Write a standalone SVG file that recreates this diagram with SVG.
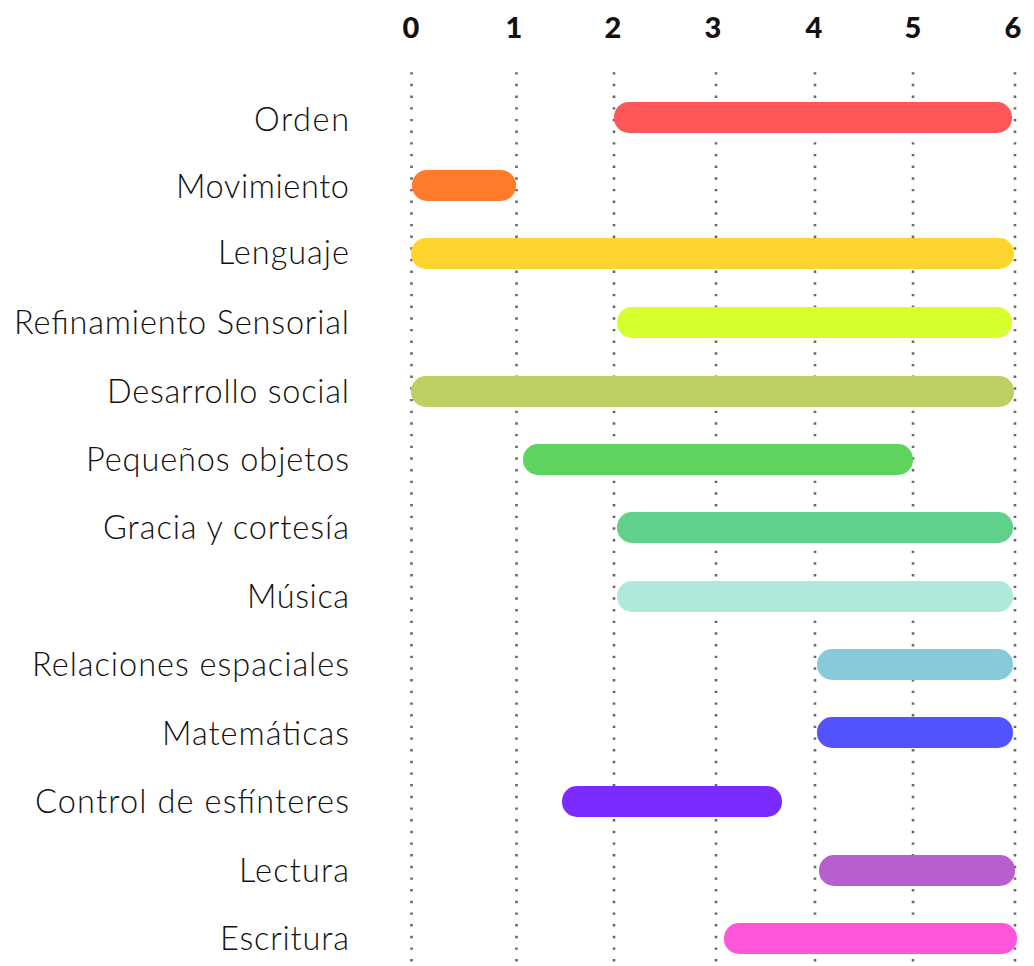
<svg xmlns="http://www.w3.org/2000/svg" width="1034" height="966" viewBox="0 0 1034 966">
<style>
.lbl{font-family:"Lato","Liberation Sans",sans-serif;font-weight:300;font-size:32.5px;fill:#111;text-anchor:end}
.ax{font-family:"Lato","Liberation Sans",sans-serif;font-weight:900;font-size:29px;fill:#111;text-anchor:middle}
.grid line{stroke:#666;stroke-width:2.6;stroke-dasharray:2.4 9.27}
</style>
<rect width="1034" height="966" fill="#fff"/>
<g id="axis">
<text class="ax" x="411" y="38">0</text>
<text class="ax" x="514" y="38">1</text>
<text class="ax" x="613" y="38">2</text>
<text class="ax" x="713" y="38">3</text>
<text class="ax" x="814" y="38">4</text>
<text class="ax" x="913" y="38">5</text>
<text class="ax" x="1013" y="38">6</text>
</g>
<g id="grid" class="grid">
<line x1="411.5" y1="72.2" x2="411.5" y2="966"/>
<line x1="516.5" y1="72.2" x2="516.5" y2="966"/>
<line x1="614" y1="72.2" x2="614" y2="966"/>
<line x1="716" y1="72.2" x2="716" y2="966"/>
<line x1="815" y1="72.2" x2="815" y2="966"/>
<line x1="913" y1="72.2" x2="913" y2="966"/>
<line x1="1015" y1="72.2" x2="1015" y2="966"/>
</g>
<g id="orden"><rect x="614" y="102" width="398" height="31" rx="15" fill="#FF5757"/><text class="lbl" x="349" y="131" textLength="95" lengthAdjust="spacing">Orden</text></g>
<g id="movimiento"><rect x="412" y="170" width="104" height="31" rx="15" fill="#FF7A2B"/><text class="lbl" x="349" y="198" textLength="173" lengthAdjust="spacing">Movimiento</text></g>
<g id="lenguaje"><rect x="411" y="238" width="603" height="31" rx="15" fill="#FDD52E"/><text class="lbl" x="349" y="264" textLength="131" lengthAdjust="spacing">Lenguaje</text></g>
<g id="refinamiento"><rect x="617" y="307" width="395" height="31" rx="15" fill="#D6FF2E"/><text class="lbl" x="349" y="334" textLength="335" lengthAdjust="spacing">Refinamiento Sensorial</text></g>
<g id="desarrollo"><rect x="411" y="376" width="603" height="31" rx="15" fill="#BDD163"/><text class="lbl" x="349" y="403" textLength="242" lengthAdjust="spacing">Desarrollo social</text></g>
<g id="pequenos"><rect x="523" y="444" width="390" height="31" rx="15" fill="#5ED35E"/><text class="lbl" x="349" y="471" textLength="263" lengthAdjust="spacing">Pequeños objetos</text></g>
<g id="gracia"><rect x="617" y="512" width="396" height="31" rx="15" fill="#5FD18D"/><text class="lbl" x="349" y="539" textLength="246" lengthAdjust="spacing">Gracia y cortesía</text></g>
<g id="musica"><rect x="617" y="581" width="396" height="31" rx="15" fill="#B0E8DC"/><text class="lbl" x="349" y="608" textLength="102" lengthAdjust="spacing">Música</text></g>
<g id="relaciones"><rect x="817" y="649" width="196" height="31" rx="15" fill="#87CBDB"/><text class="lbl" x="349" y="676" textLength="317" lengthAdjust="spacing">Relaciones espaciales</text></g>
<g id="matematicas"><rect x="817" y="717" width="196" height="31" rx="15" fill="#5252FF"/><text class="lbl" x="349" y="745" textLength="187" lengthAdjust="spacing">Matemáticas</text></g>
<g id="control"><rect x="562" y="786" width="220" height="31" rx="15" fill="#7B2BFF"/><text class="lbl" x="349" y="813" textLength="314" lengthAdjust="spacing">Control de esfínteres</text></g>
<g id="lectura"><rect x="819" y="855" width="196" height="31" rx="15" fill="#B95ECF"/><text class="lbl" x="349" y="882" textLength="110" lengthAdjust="spacing">Lectura</text></g>
<g id="escritura"><rect x="724" y="923" width="293" height="31" rx="15" fill="#FF55DA"/><text class="lbl" x="349" y="950" textLength="129" lengthAdjust="spacing">Escritura</text></g>
</svg>
